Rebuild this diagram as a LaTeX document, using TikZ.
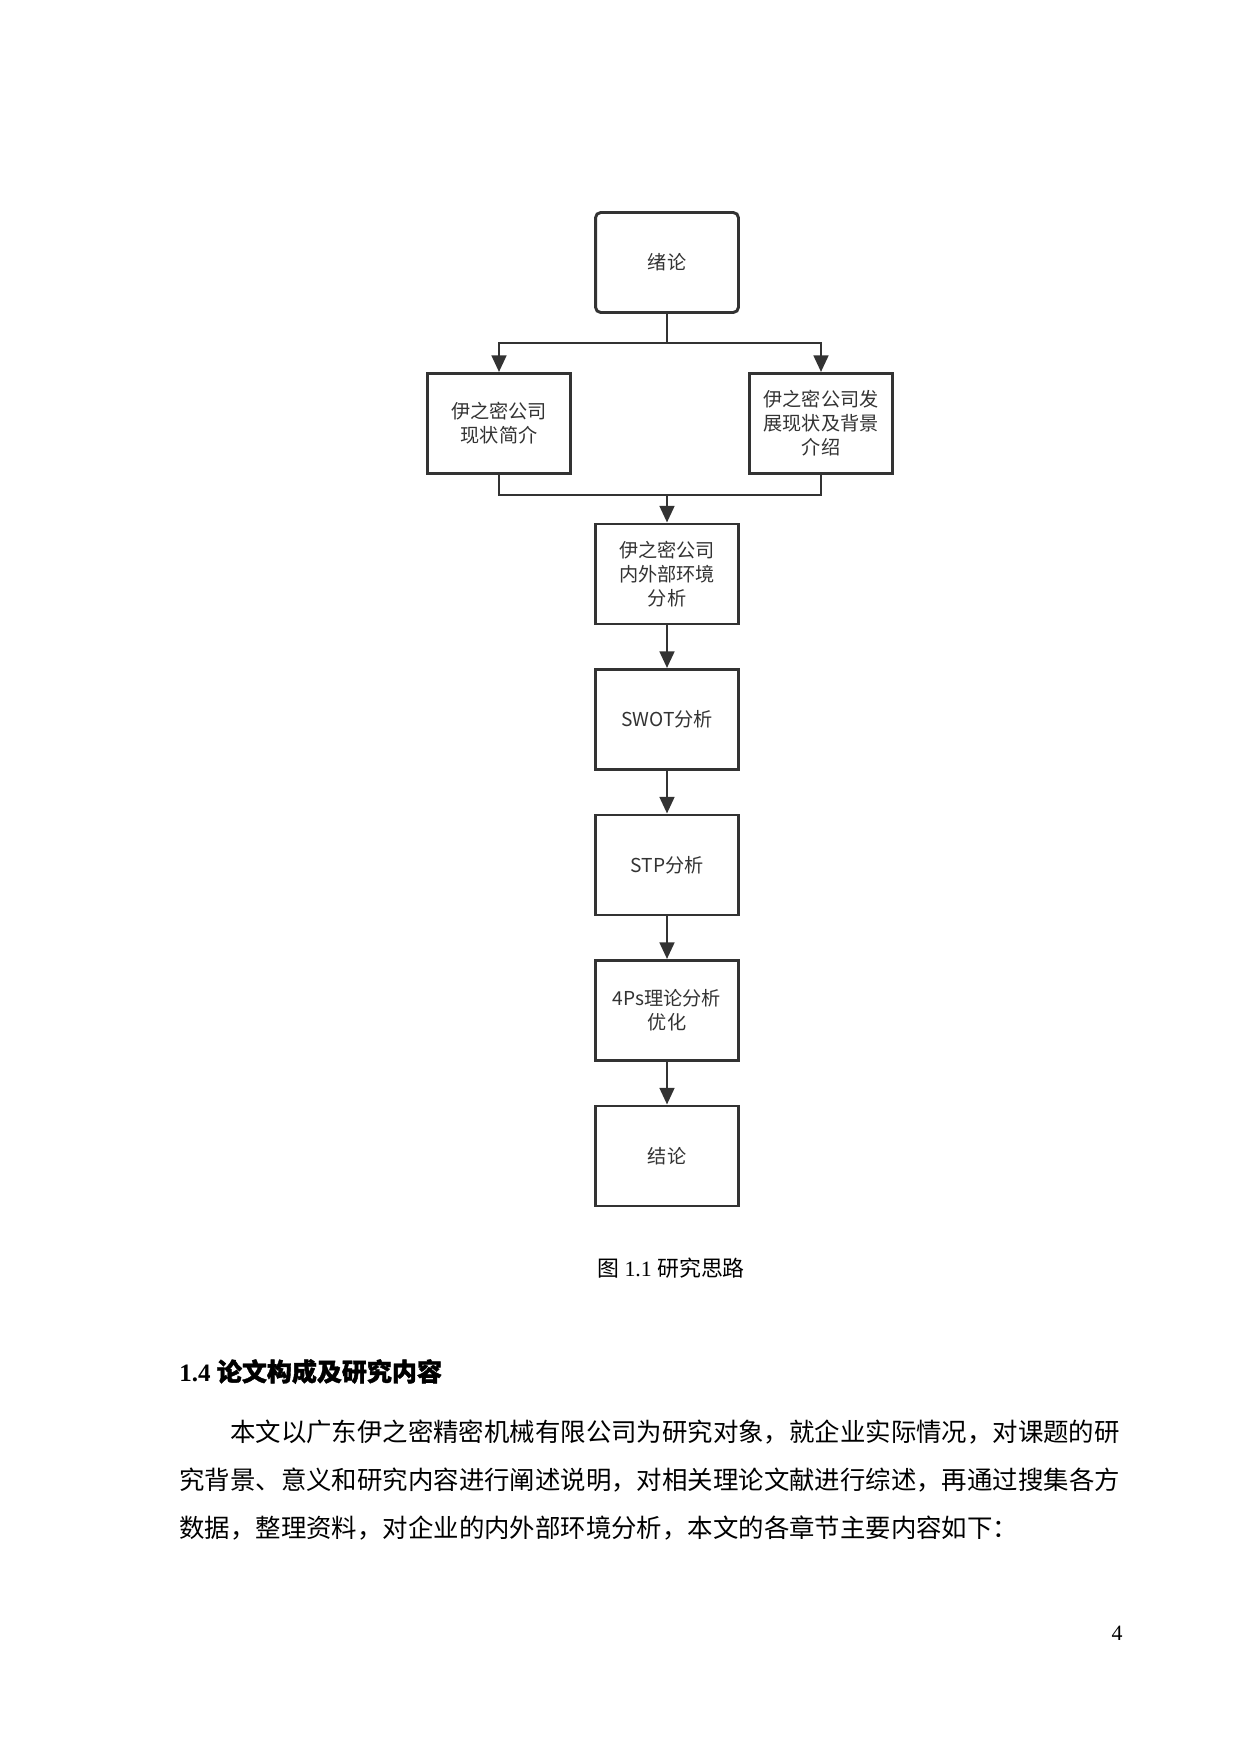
\documentclass[tikz,border=0pt]{standalone}
\usepackage{fontspec}
\setmainfont{Liberation Serif}
\newfontfamily\cjk{Noto Sans CJK SC}
\newfontfamily\cjkb[FakeBold=1.5]{Noto Sans CJK SC}
\usetikzlibrary{arrows.meta}
\definecolor{ink}{HTML}{333333}
\begin{document}
\begin{tikzpicture}[x=0.48pt,y=-0.48pt,
  box/.style={draw=ink, line width=1.4pt, minimum width=68.6pt, minimum height=48pt,
    align=center, font=\cjk\fontsize{9.2}{11.5}\selectfont, text=ink, inner sep=1pt, fill=white},
  conn/.style={draw=ink, line width=1.4pt},
  arr/.style={conn, -{Triangle[width=7pt,length=8pt]}},
  body/.style={anchor=base west, inner sep=0pt, font=\cjk\fontsize{12.2}{14}\selectfont}]
\useasboundingbox (0,0) rectangle (1240,1754);
\fill[white] (0,0) rectangle (1240,1754);
% boxes
\node[box, rounded corners=2.5pt] (intro) at (667,262.5) {绪论};
\node[box] (cur) at (499,423.5) {伊之密公司\\现状简介};
\node[box] (dev) at (821,423.5) {伊之密公司发\\展现状及背景\\介绍};
\node[box] (env) at (667,574) {伊之密公司\\内外部环境\\分析};
\node[box] (swot) at (667,719.5) {SWOT分析};
\node[box] (stp) at (667,865) {STP分析};
\node[box] (fourp) at (667,1010.5) {4Ps理论分析\\优化};
\node[box] (concl) at (667,1156) {结论};
% connectors
\coordinate (split) at (667,343);
\coordinate (merge) at (667,495);
\draw[conn] (intro.south) -- (split);
\draw[arr] (split) -| (cur.north);
\draw[arr] (split) -| (dev.north);
\draw[conn] (cur.south) |- (merge);
\draw[conn] (dev.south) |- (merge);
\draw[arr] (merge) -- (env.north);
\draw[arr] (env) -- (swot);
\draw[arr] (swot) -- (stp);
\draw[arr] (stp) -- (fourp);
\draw[arr] (fourp) -- (concl);
% caption
\node[anchor=base, inner sep=0pt, font=\fontsize{10.5}{12}\selectfont] (cap) at (671,1276)
  {{\cjk 图} 1.1 {\cjk 研究思路}};
% heading
\node[anchor=base west, inner sep=0pt] (head) at (179,1381)
  {\fontsize{12}{14}\selectfont\bfseries 1.4 {\cjkb\fontsize{12}{14}\selectfont 论文构成及研究内容}};
% body text
\node[body] (p1) at (229.8,1441) {本文以广东伊之密精密机械有限公司为研究对象，就企业实际情况，对课题的研};
\node[body] (p2) at (179,1489) {究背景、意义和研究内容进行阐述说明，对相关理论文献进行综述，再通过搜集各方};
\node[body] (p3) at (179,1537) {数据，整理资料，对企业的内外部环境分析，本文的各章节主要内容如下：};
% page number
\node[inner sep=0pt, font=\fontsize{10.5}{12}\selectfont] (pg) at (1117,1633) {4};
\end{tikzpicture}
\end{document}
